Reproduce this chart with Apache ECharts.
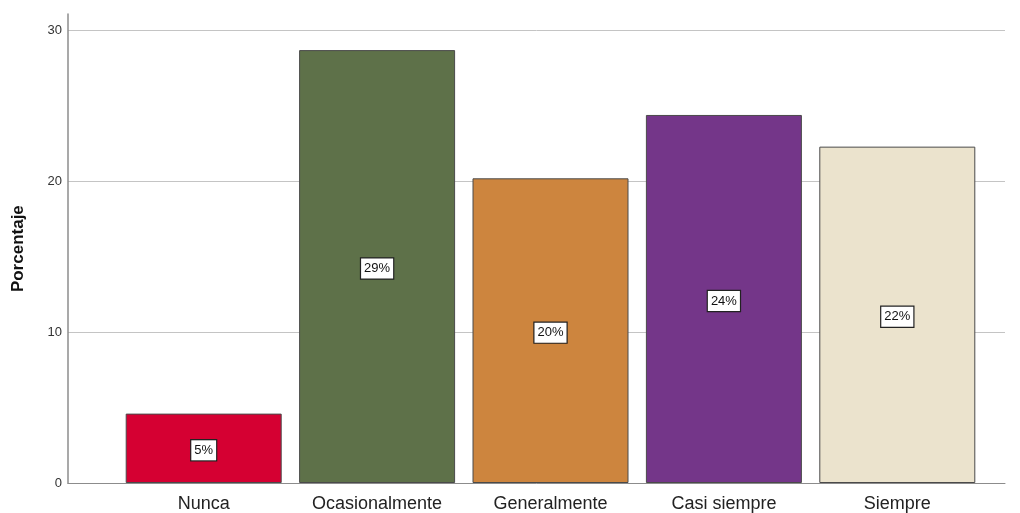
<!DOCTYPE html>
<html>
<head>
<meta charset="utf-8">
<script src="https://cdn.jsdelivr.net/npm/echarts@6/dist/echarts.min.js"></script>
<style>
  html, body { margin: 0; padding: 0; background: #fff; }
  #chart { width: 1020px; height: 513px; }
</style>
</head>
<body>
<div id="chart"></div>
<script>
// Response categories and their share of answers (%)
const categories = ['Nunca', 'Ocasionalmente', 'Generalmente', 'Casi siempre', 'Siempre'];
const percentages = [4.6, 28.7, 20.2, 24.4, 22.3];
const barColors = ['#d50032', '#5e7149', '#cd853e', '#743689', '#ebe3cd'];
const yTicks = [0, 10, 20, 30];

const chart = echarts.init(document.getElementById('chart'));

const fontFamily = '"Liberation Sans", Arial, sans-serif';

chart.setOption({
  animation: false,
  backgroundColor: '#ffffff',
  grid: [
    // 0: value frame with gridlines and tick labels
    { left: 68, right: 15, top: 30.5, bottom: 29.7 },
    // 1: taller frame that carries the vertical axis line and its title
    { left: 68, right: 15, top: 14, bottom: 29.7 },
    // 2: category band holding the bars
    { left: 117, right: 36, top: 30.5, bottom: 29.7 }
  ],
  xAxis: [
    {
      gridIndex: 0, type: 'value', min: 0, max: 1,
      axisLine: { show: true, lineStyle: { color: '#8c8c8c', width: 1 } },
      axisTick: { show: false }, axisLabel: { show: false }, splitLine: { show: false }
    },
    {
      gridIndex: 1, type: 'value', min: 0, max: 1, show: false
    },
    {
      gridIndex: 2, type: 'category', data: categories,
      axisLine: { show: false }, axisTick: { show: false },
      axisLabel: { color: '#222', fontSize: 18, fontFamily: fontFamily, margin: 12 }
    }
  ],
  yAxis: [
    {
      gridIndex: 0, type: 'value', min: yTicks[0], max: yTicks[yTicks.length - 1], interval: 10,
      axisLine: { show: false }, axisTick: { show: false },
      axisLabel: { color: '#333', fontSize: 13, fontFamily: fontFamily, margin: 6 },
      splitLine: { show: true, lineStyle: { color: '#c4c4c4', width: 1 } }
    },
    {
      gridIndex: 1, type: 'value', min: 0, max: 31.1,
      name: 'Porcentaje', nameLocation: 'middle', nameGap: 41, nameRotate: 90,
      nameTextStyle: { fontSize: 17, fontWeight: 'bold', color: '#111', fontFamily: fontFamily },
      axisLine: { show: true, lineStyle: { color: '#8c8c8c', width: 1.5 } },
      axisTick: { show: false }, axisLabel: { show: false }, splitLine: { show: false }
    },
    {
      gridIndex: 2, type: 'value', min: 0, max: 30, show: false
    }
  ],
  series: [
    {
      type: 'bar',
      xAxisIndex: 2, yAxisIndex: 2,
      barWidth: 156,
      data: percentages.map((v, i) => ({
        value: v,
        itemStyle: { color: barColors[i], borderColor: '#4a4a4a', borderWidth: 1 }
      })),
      label: {
        show: true,
        position: 'inside',
        offset: [0, 2],
        formatter: p => Math.round(p.value) + '%',
        color: '#111',
        fontSize: 13,
        fontFamily: fontFamily,
        backgroundColor: '#ffffff',
        borderColor: '#222',
        borderWidth: 1.2,
        padding: [4, 3, 3, 3]
      }
    }
  ]
});
</script>
</body>
</html>
